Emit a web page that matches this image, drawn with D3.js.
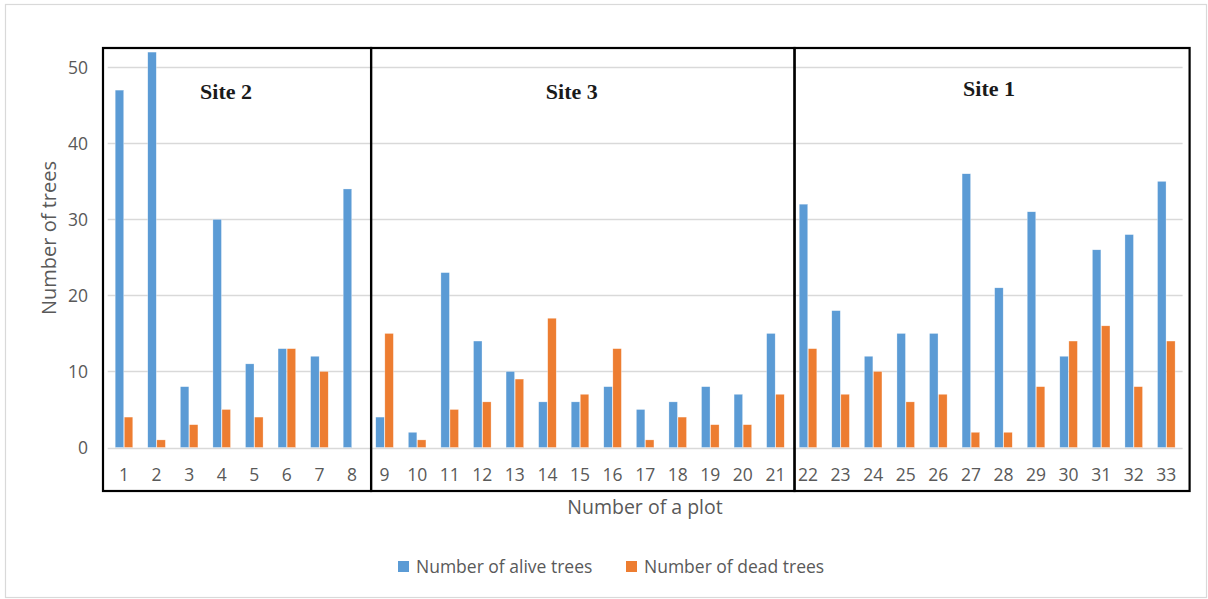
<!DOCTYPE html>
<html>
<head>
<meta charset="utf-8">
<script src="https://cdn.jsdelivr.net/npm/d3@7"></script>
<style>
  html, body { margin: 0; padding: 0; background: #fff; }
  svg { display: block; font-family: "Open Sans", "Liberation Sans", sans-serif; }
</style>
</head>
<body>
<svg id="chart" width="1208" height="599"></svg>
<script>
// Tree counts per plot
const plots = d3.range(1, 34).map(String);
const alive = [47, 52, 8, 30, 11, 13, 12, 34,
               4, 2, 23, 14, 10, 6, 6, 8, 5, 6, 8, 7, 15,
               32, 18, 12, 15, 15, 36, 21, 31, 12, 26, 28, 35];
const dead  = [4, 1, 3, 5, 4, 13, 10, 0,
               15, 1, 5, 6, 9, 17, 7, 13, 1, 4, 3, 3, 7,
               13, 7, 10, 6, 7, 2, 2, 8, 14, 16, 8, 14];
const seriesNames = ["Number of alive trees", "Number of dead trees"];
const seriesColors = ["#5b9bd5", "#ed7d31"];
const yTicks = [0, 10, 20, 30, 40, 50];
const siteNames = ["Site 2", "Site 3", "Site 1"];
const siteFirst = ["1", "9", "22"];
const siteLast = ["8", "21", "33"];

const svg = d3.select("#chart");
const sansFont = "'Open Sans', 'Liberation Sans', sans-serif";
const serifFont = "'Liberation Serif', 'DejaVu Serif', serif";

// Chart frame
svg.append("rect")
  .attr("x", 5.5).attr("y", 4.5)
  .attr("width", 1201).attr("height", 593)
  .attr("fill", "#fff").attr("stroke", "#d9d9d9").attr("stroke-width", 1.2);

const plotLeft = 107.7, plotRight = 1182.6;
const x = d3.scaleBand().domain(plots).range([plotLeft, plotRight])
  .paddingInner(0.46).paddingOuter(0.23);
const xs = d3.scaleBand().domain([0, 1]).range([0, x.bandwidth()]).paddingInner(0.06);
const y = d3.scaleLinear().domain([0, 50]).range([447.5, 67.3]);

// Horizontal gridlines
svg.append("g").selectAll("line").data(yTicks).join("line")
  .attr("x1", plotLeft).attr("x2", plotRight)
  .attr("y1", d => Math.round(y(d)) + 0.5).attr("y2", d => Math.round(y(d)) + 0.5)
  .attr("stroke", "#d9d9d9").attr("stroke-width", 1.3);

// Y axis labels
const yAxis = d3.axisLeft(y).tickValues(yTicks).tickSize(0).tickPadding(0);
svg.append("g").attr("transform", "translate(88,0)").call(yAxis)
  .call(g => g.select(".domain").remove())
  .call(g => g.selectAll("text")
    .attr("fill", "#595959").attr("font-size", 17.5)
    .attr("font-family", sansFont).attr("dy", "0.36em"));

// X axis labels
const xAxis = d3.axisBottom(x).tickSize(0).tickPadding(0);
svg.append("g").attr("transform", "translate(0,481)").call(xAxis)
  .call(g => g.select(".domain").remove())
  .call(g => g.selectAll("text")
    .attr("fill", "#595959").attr("font-size", 17.5)
    .attr("font-family", sansFont).attr("dy", 0));

// Bars
const rows = plots.map((p, i) => ({ plot: p, values: [alive[i], dead[i]] }));
const groups = svg.append("g").selectAll("g").data(rows).join("g")
  .attr("transform", d => `translate(${x(d.plot)},0)`);
groups.selectAll("rect").data(d => d.values.map((v, k) => ({ v, k }))).join("rect")
  .attr("x", d => xs(d.k))
  .attr("width", xs.bandwidth())
  .attr("y", d => y(d.v))
  .attr("height", d => y(0) - y(d.v))
  .attr("fill", d => seriesColors[d.k])
  .attr("stroke", "#ffffff").attr("stroke-width", 0.5).attr("stroke-opacity", 0.6);

// Site frames
const step = x.step();
const boxTop = 48, boxBottom = 491;
const sites = siteNames.map((name, i) => ({
  name,
  left: i === 0 ? plotLeft - 4.7 : x(siteFirst[i]) - (step - x.bandwidth()) / 2 + 2.8,
  right: i === siteNames.length - 1 ? plotRight + 7 : x(siteLast[i]) + x.bandwidth() + (step - x.bandwidth()) / 2 + 2.8
}));
const labelShift = [-11, -11, -3];
svg.append("g").selectAll("rect").data(sites).join("rect")
  .attr("x", d => d.left).attr("y", boxTop)
  .attr("width", d => d.right - d.left).attr("height", boxBottom - boxTop)
  .attr("fill", "none").attr("stroke", "#000").attr("stroke-width", 2.2);
svg.append("g").selectAll("text").data(sites).join("text")
  .attr("x", (d, i) => (d.left + d.right) / 2 + labelShift[i])
  .attr("y", (d, i) => i === 2 ? 96 : 98.5)
  .attr("text-anchor", "middle")
  .attr("font-family", serifFont)
  .attr("font-weight", "bold").attr("font-size", 22)
  .attr("fill", "#1a1a1a")
  .text(d => d.name);

// Axis titles
svg.append("text")
  .attr("x", 645).attr("y", 514)
  .attr("text-anchor", "middle").attr("font-size", 19.5).attr("fill", "#595959")
  .attr("font-family", sansFont)
  .text("Number of a plot");
svg.append("text")
  .attr("transform", "translate(56,238) rotate(-90)")
  .attr("text-anchor", "middle").attr("font-size", 20).attr("fill", "#595959")
  .attr("font-family", sansFont)
  .text("Number of trees");

// Legend
const legendX = [398, 626];
const legend = svg.append("g").selectAll("g").data(seriesNames).join("g")
  .attr("transform", (d, i) => `translate(${legendX[i]},561)`);
legend.append("rect").attr("width", 11).attr("height", 11)
  .attr("fill", (d, i) => seriesColors[i]);
legend.append("text").attr("x", 18).attr("y", 12)
  .attr("font-size", 17.5).attr("fill", "#595959")
  .attr("font-family", sansFont)
  .text(d => d);
</script>
</body>
</html>
